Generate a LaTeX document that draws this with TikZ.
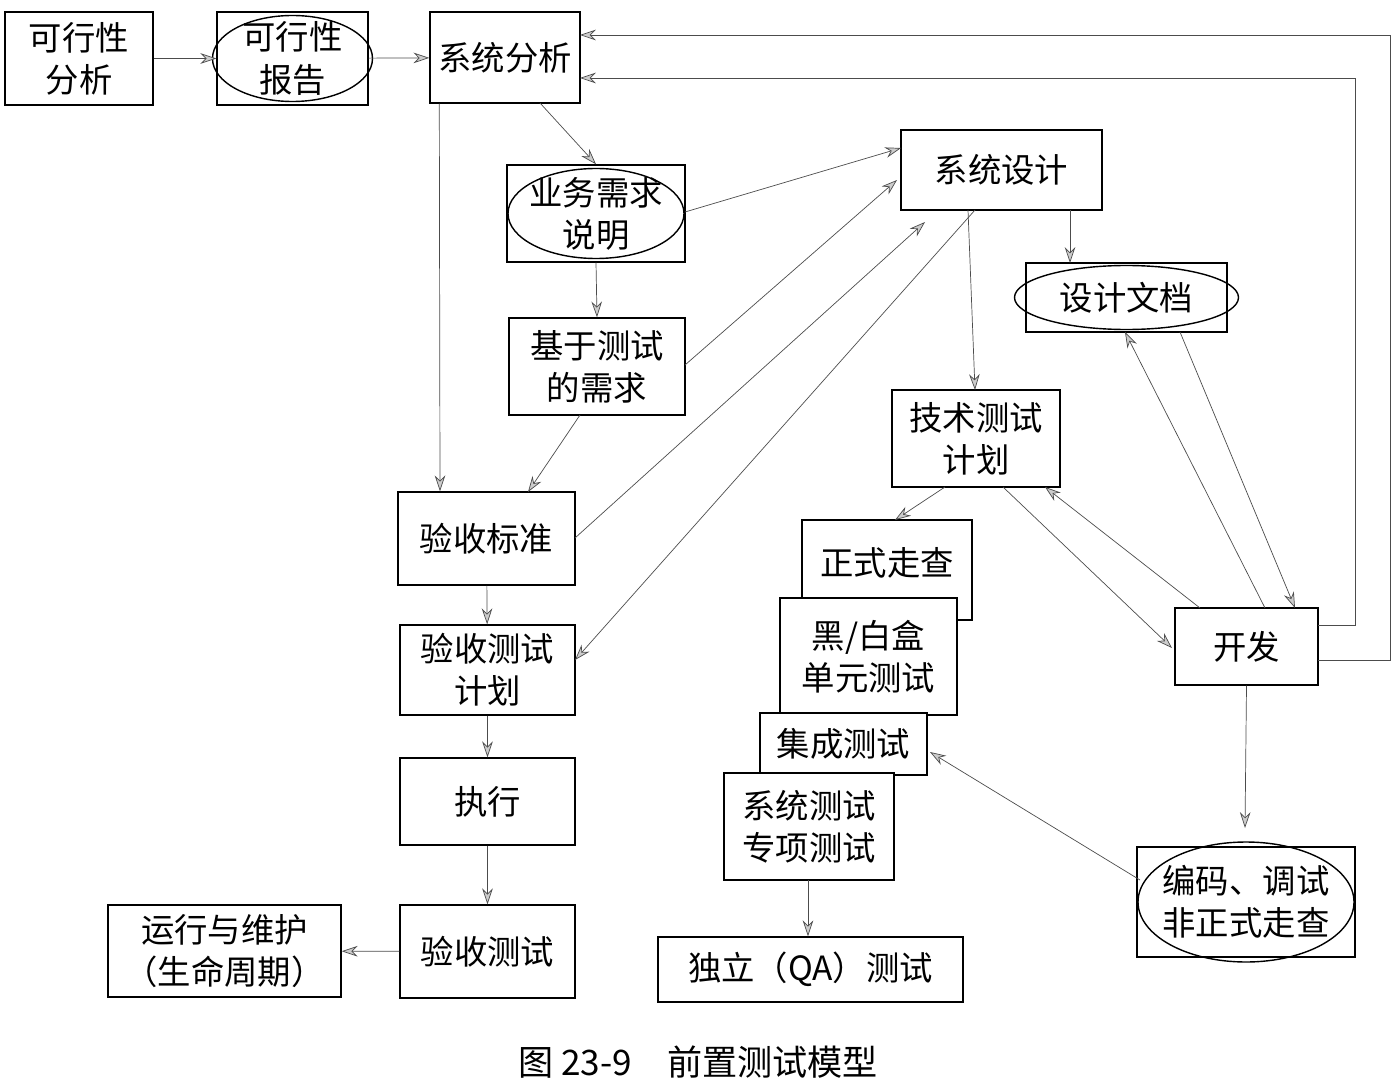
\documentclass[tikz,border=0pt]{standalone}
\usepackage{fontspec}
\setmainfont{Noto Sans CJK SC}
\usetikzlibrary{arrows.meta}
\begin{document}
\begin{tikzpicture}[x=0.02cm,y=-0.02cm,
 bx/.style={draw,thick,fill=white,inner sep=0,align=center,font=\fontsize{19}{24}\selectfont},
 ar/.style={draw=black!70,-{Stealth[open,length=9pt,width=6pt,fill=gray!40]}},
 el/.style={thick}]
\useasboundingbox (0,0) rectangle (1396,1091);
\newcommand{\bxn}[6]{\node[bx,minimum width=#4*0.02cm-#2*0.02cm,minimum height=#5*0.02cm-#3*0.02cm] (#1) at ({(#2+#4)/2},{(#3+#5)/2}) {#6};}
\bxn{a}{5}{12}{153}{105}{可行性\\分析}
\bxn{b}{217}{12}{368}{105}{可行性\\报告}
\draw[el] (b.center) ellipse [x radius=80*0.02cm, y radius=43*0.02cm];
\bxn{c}{430}{12}{580}{103}{系统分析}
\bxn{d}{507}{165}{685}{262}{业务需求\\说明}
\draw[el] (d.center) ellipse [x radius=88*0.02cm, y radius=45*0.02cm];
\bxn{e}{901}{130}{1102}{210}{系统设计}
\bxn{f}{1026}{263}{1227}{332}{设计文档}
\draw[el] (f.center) ellipse [x radius=112*0.02cm, y radius=32*0.02cm];
\bxn{g}{509}{318}{685}{415}{基于测试\\的需求}
\bxn{h}{892}{390}{1060}{487}{技术测试\\计划}
\bxn{i}{398}{492}{575}{585}{验收标准}
\bxn{j}{802}{520}{972}{620}{}
\node[font=\fontsize{19}{24}\selectfont] (jt) at (887,563) {正式走查};
\bxn{k}{780}{598}{957}{715}{黑/白盒\\单元测试}
\bxn{l}{760}{713}{927}{775}{集成测试}
\bxn{m}{724}{773}{894}{880}{系统测试\\专项测试}
\bxn{n}{1175}{608}{1318}{685}{开发}
\bxn{o}{400}{625}{575}{715}{验收测试\\计划}
\bxn{p}{400}{758}{575}{845}{执行}
\bxn{q}{1137}{847}{1355}{957}{编码、调试\\非正式走查}
\draw[el] (q.center) ellipse [x radius=108*0.02cm, y radius=60*0.02cm];
\bxn{r}{108}{905}{341}{997}{运行与维护\\（生命周期）}
\bxn{s}{400}{905}{575}{998}{验收测试}
\bxn{t}{658}{937}{963}{1002}{独立（QA）测试}
\node[font=\fontsize{20}{24}\selectfont] (cap) at (698,1062) {图 23-9\quad 前置测试模型};
\draw[ar] (a) -- (b.west);
\draw[ar] (b) -- (c);
\draw[ar] (c.south west) ++(10,0) -- (i.north -| 440,0);
\draw[ar] (540,103) -- (d.north);
\draw[ar] (685,212) -- (901,148);
\draw[ar] (d.south) -- (g.north);
\draw[ar] (685,365) -- (897,180);
\draw[ar] (580,415) -- (528,492);
\draw[ar] (575,538) -- (925,222);
\draw[ar] (975,210) -- (575,660);
\draw[ar] (1070,210) -- (1070,263);
\draw[ar] (968,210) -- (975,390);
\draw[ar] (1265,608) -- (1125,332);
\draw[ar] (1180,332) -- (1295,608);
\draw[ar] (945,487) -- (895,520);
\draw[ar] (1003,487) -- (1172,648);
\draw[ar] (1200,608) -- (1045,487);
\draw[ar] (1318,625) -- (1355,625) -- (1355,78) -- (580,78);
\draw[ar] (1318,660) -- (1390,660) -- (1390,35) -- (580,35);
\draw[ar] (n.south) -- (1245,828);
\draw[ar] (1140,880) -- (930,752);
\draw[ar] (i) -- (o);
\draw[ar] (o) -- (p);
\draw[ar] (p) -- (s);
\draw[ar] (s) -- (r);
\draw[ar] (808,880) -- (t.north -| 808,0);
\end{tikzpicture}
\end{document}
